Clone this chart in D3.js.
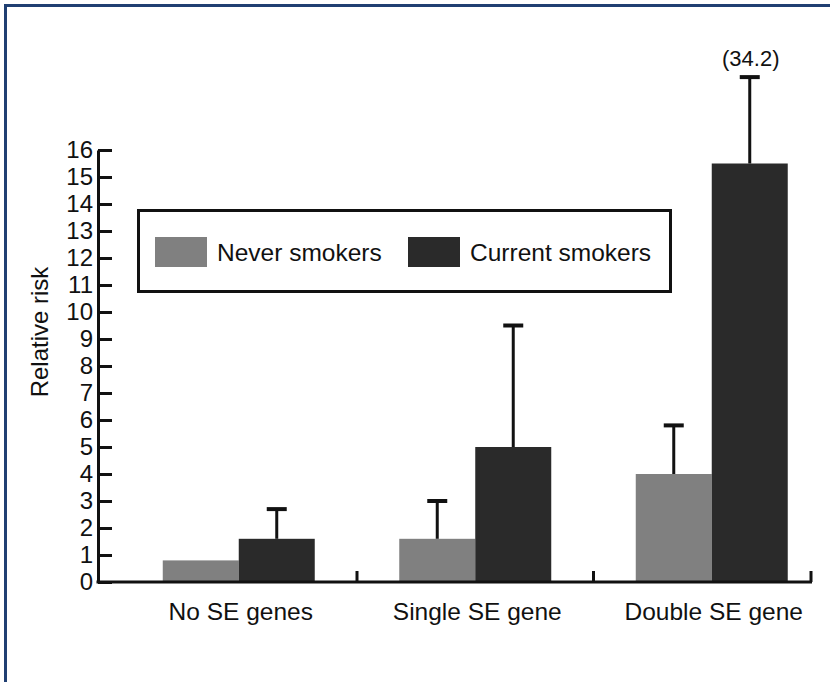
<!DOCTYPE html>
<html>
<head>
<meta charset="utf-8">
<script src="https://cdn.jsdelivr.net/npm/d3@7"></script>
<style>
  html, body { margin: 0; padding: 0; background: #fff; }
  svg { display: block; }
  text { font-family: "Liberation Sans", Arial, sans-serif; fill: #111; }
</style>
</head>
<body>
<svg id="chart" width="830" height="682"></svg>
<script>
// ---- data ----
const categories = ["No SE genes", "Single SE gene", "Double SE gene"];
const seriesNames = ["Never smokers", "Current smokers"];
const neverValues = [0.8, 1.6, 4.0];
const currentValues = [1.6, 5.0, 15.5];
const neverErrUpper = [null, 3.0, 5.8];
const currentErrUpper = [2.7, 9.5, 34.2];
const yTickLabels = [0, 1, 2, 3, 4, 5, 6, 7, 8, 9, 10, 11, 12, 13, 14, 15, 16];
const yMax = 16;
const brokenErrDrawnAt = 18.7;   // off-scale error bar drawn compressed, value shown as label

// ---- layout ----
const svg = d3.select("#chart");
const colors = { "Never smokers": "#808080", "Current smokers": "#2a2a2a" };
const axisX = 98, axisBottom = 582, axisTop = 150, axisRight = 812;

// frame
svg.append("line").attr("x1", 4).attr("x2", 830).attr("y1", 5.5).attr("y2", 5.5)
  .attr("stroke", "#203f72").attr("stroke-width", 3);
svg.append("line").attr("x1", 5.5).attr("x2", 5.5).attr("y1", 4).attr("y2", 682)
  .attr("stroke", "#203f72").attr("stroke-width", 3);

const y = d3.scaleLinear().domain([0, yMax]).range([axisBottom, axisTop]);
const x = d3.scaleBand().domain(categories).range([120.5, 830]).padding(0);
const xs = d3.scaleBand().domain(seriesNames).range([0, x.bandwidth()])
  .paddingInner(0).paddingOuter(0.556);

const valuesBySeries = { "Never smokers": neverValues, "Current smokers": currentValues };
const errBySeries = { "Never smokers": neverErrUpper, "Current smokers": currentErrUpper };

const rows = [];
categories.forEach((c, i) => {
  seriesNames.forEach(s => {
    rows.push({ cat: c, series: s, value: valuesBySeries[s][i], err: errBySeries[s][i] });
  });
});

// bars
svg.append("g").selectAll("rect").data(rows).join("rect")
  .attr("x", d => x(d.cat) + xs(d.series))
  .attr("width", xs.bandwidth())
  .attr("y", d => y(d.value))
  .attr("height", d => y(0) - y(d.value))
  .attr("fill", d => colors[d.series]);

// error bars
const errRows = rows.filter(d => d.err != null);
const eg = svg.append("g");
const errDrawn = d => (d.err > yMax ? brokenErrDrawnAt : d.err);
const cx = d => x(d.cat) + xs(d.series) + xs.bandwidth() / 2;
eg.selectAll("line.stem").data(errRows).join("line").attr("class", "stem")
  .attr("x1", cx).attr("x2", cx)
  .attr("y1", d => y(d.value)).attr("y2", d => y(errDrawn(d)))
  .attr("stroke", "#111").attr("stroke-width", 3);
eg.selectAll("line.cap").data(errRows).join("line").attr("class", "cap")
  .attr("x1", d => cx(d) - 10).attr("x2", d => cx(d) + 10)
  .attr("y1", d => y(errDrawn(d))).attr("y2", d => y(errDrawn(d)))
  .attr("stroke", "#111").attr("stroke-width", 4);
eg.selectAll("text.brk").data(errRows.filter(d => d.err > yMax)).join("text").attr("class", "brk")
  .attr("x", d => cx(d) + 1).attr("y", d => y(errDrawn(d)) - 11)
  .attr("text-anchor", "middle").attr("font-size", 22)
  .text(d => "(" + d.err.toFixed(1) + ")");

// y axis
const yAxis = d3.axisLeft(y).tickValues(yTickLabels).tickFormat(d3.format("d"))
  .tickSizeInner(-14).tickSizeOuter(0).tickPadding(5);
const yg = svg.append("g").attr("transform", `translate(${axisX},0)`).call(yAxis);
yg.select(".domain").attr("stroke", "#111").attr("stroke-width", 3);
yg.selectAll(".tick line").attr("stroke", "#111").attr("stroke-width", 3);
yg.selectAll(".tick text").attr("font-size", 24).attr("fill", "#111")
  .attr("font-family", "Liberation Sans, Arial, sans-serif");

// x axis line + category separators
svg.append("line").attr("x1", axisX - 1.5).attr("x2", axisRight)
  .attr("y1", axisBottom).attr("y2", axisBottom)
  .attr("stroke", "#111").attr("stroke-width", 3);
const sepX = categories.slice(1).map(c => x(c)).concat([axisRight - 1]);
svg.append("g").selectAll("line").data(sepX).join("line")
  .attr("x1", d => d).attr("x2", d => d)
  .attr("y1", axisBottom).attr("y2", axisBottom - 11)
  .attr("stroke", "#111").attr("stroke-width", 3);

// category labels
svg.append("g").selectAll("text").data(categories).join("text")
  .attr("x", d => x(d) + x.bandwidth() / 2 + 2)
  .attr("y", 620)
  .attr("text-anchor", "middle").attr("font-size", 24.5)
  .text(d => d);

// y title
svg.append("text")
  .attr("transform", "translate(48,332) rotate(-90)")
  .attr("text-anchor", "middle").attr("font-size", 24)
  .text("Relative risk");

// legend
const lg = svg.append("g");
lg.append("rect").attr("x", 138.5).attr("y", 210.5).attr("width", 532).attr("height", 81)
  .attr("fill", "#fff").attr("stroke", "#111").attr("stroke-width", 3);
const legendX = [155, 408];
seriesNames.forEach((s, i) => {
  lg.append("rect").attr("x", legendX[i]).attr("y", 237).attr("width", 52).attr("height", 30)
    .attr("fill", colors[s]);
  lg.append("text").attr("x", legendX[i] + 62).attr("y", 261)
    .attr("font-size", 24.5).text(s);
});
</script>
</body>
</html>
